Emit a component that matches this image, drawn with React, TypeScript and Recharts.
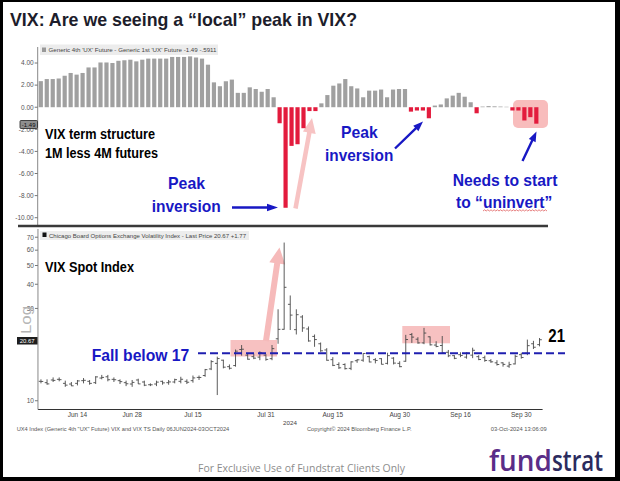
import React from 'react';
import { BarChart, Bar, Cell, XAxis, YAxis, ComposedChart } from 'recharts';

// ---------- DATA ----------
const termDates = [
  'Jun 6','Jun 7','Jun 10','Jun 11','Jun 12','Jun 13','Jun 14','Jun 17','Jun 18','Jun 19','Jun 20','Jun 21','Jun 24','Jun 25','Jun 26','Jun 27','Jun 28',
  'Jul 1','Jul 2','Jul 3','Jul 5','Jul 8','Jul 9','Jul 10','Jul 11','Jul 12','Jul 15','Jul 16','Jul 17','Jul 18','Jul 19','Jul 22','Jul 23','Jul 24','Jul 25','Jul 26','Jul 29','Jul 30','Jul 31',
  'Aug 1','Aug 2','Aug 5','Aug 6','Aug 7','Aug 8','Aug 9','Aug 12','Aug 13','Aug 14','Aug 15','Aug 16','Aug 19','Aug 20','Aug 21','Aug 22','Aug 23','Aug 26','Aug 27','Aug 28','Aug 29','Aug 30',
  'Sep 3','Sep 4','Sep 5','Sep 6','Sep 9','Sep 10','Sep 11','Sep 12','Sep 13','Sep 16','Sep 17','Sep 18','Sep 19','Sep 20','Sep 23','Sep 24','Sep 25','Sep 26','Sep 27','Sep 30',
  'Oct 1','Oct 2','Oct 3',
];
const termValues = [
  2.36, 2.55, 2.55, 2.6, 2.85, 3.1, 2.95, 3.1, 3.6, 3.6,
  4.05, 4.05, 4.0, 4.2, 4.25, 4.3, 4.15, 4.3, 4.4, 4.4,
  4.4, 4.4, 4.55, 4.55, 4.55, 4.6, 4.5, 4.4, 3.85, 2.25,
  1.9, 2.35, 2.5, 1.3, 1.3, 1.8, 1.65, 1.4, 1.65, 0.9,
  -1.45, -9.1, -3.5, -3.35, -1.9, -0.35, -0.35, 0.35, 1.1, 1.95,
  2.15, 2.55, 1.9, 1.7, 0.9, 1.5, 1.5, 1.6, 0.9, 1.6,
  1.65, 1.65, -0.4, -0.3, -0.3, -1.0, 0.15, 0.25, 0.8, 1.05,
  1.3, 0.95, 0.45, -0.55, 0.06, 0.1, 0.08, 0.06, 0.04, -0.3,
  -0.3, -1.2, -0.9, -1.49,
];
const termTicks = [4, 2, 0, -2, -4, -6, -8, -10];

const vixDates = [
  'Jun 6','Jun 7','Jun 10','Jun 11','Jun 12','Jun 13','Jun 14','Jun 17','Jun 18','Jun 20','Jun 21','Jun 24','Jun 25','Jun 26','Jun 27','Jun 28',
  'Jul 1','Jul 2','Jul 3','Jul 5','Jul 8','Jul 9','Jul 10','Jul 11','Jul 12','Jul 15','Jul 16','Jul 17','Jul 18','Jul 19','Jul 22','Jul 23','Jul 24','Jul 25','Jul 26','Jul 29','Jul 30','Jul 31',
  'Aug 1','Aug 2','Aug 5','Aug 6','Aug 7','Aug 8','Aug 9','Aug 12','Aug 13','Aug 14','Aug 15','Aug 16','Aug 19','Aug 20','Aug 21','Aug 22','Aug 23','Aug 26','Aug 27','Aug 28','Aug 29','Aug 30',
  'Sep 3','Sep 4','Sep 5','Sep 6','Sep 9','Sep 10','Sep 11','Sep 12','Sep 13','Sep 16','Sep 17','Sep 18','Sep 19','Sep 20','Sep 23','Sep 24','Sep 25','Sep 26','Sep 27','Sep 30',
  'Oct 1','Oct 2','Oct 3',
];
const vixOpen = [
  12.6, 12.4, 12.8, 12.9, 12.3, 12.2, 12.3, 12.7, 12.6, 12.4, 13.1, 13.3, 12.9, 12.7, 12.4, 12.2,
  12.8, 12.5, 12.1, 12.2, 12.6, 12.4, 12.5, 12.6, 12.6, 12.7, 13.2, 13.5, 14.6, 15.6, 16.2, 15.0, 15.2, 18.4, 17.2, 16.9, 16.8, 17.2,
  16.5, 20.9, 23.4, 31.5, 23.3, 27.1, 23.5, 21.5, 19.7, 18.3, 16.3, 15.4, 15.4, 14.7, 16.1, 16.2, 16.9, 16.3, 16.5, 15.6, 16.6, 15.6,
  16.0, 22.0, 20.8, 19.9, 21.4, 19.4, 19.3, 17.8, 17.1, 17.3, 16.8, 17.2, 16.9, 16.7, 16.1, 15.7, 15.7, 15.1, 15.5, 17.3,
  17.6, 19.7, 19.5,
];
const vixHigh = [
  12.9, 12.9, 13.2, 13.2, 12.7, 12.5, 12.8, 13.1, 12.8, 13.4, 13.6, 13.6, 13.2, 12.9, 12.7, 12.8,
  13.0, 12.7, 12.3, 12.7, 12.7, 12.8, 13.0, 13.3, 12.9, 13.5, 13.5, 14.6, 16.2, 16.9, 16.3, 15.4, 18.4, 19.4, 17.6, 17.5, 18.0, 17.4,
  19.4, 29.7, 65.7, 35.0, 29.7, 27.7, 24.2, 22.0, 20.0, 18.7, 16.8, 15.8, 15.6, 16.0, 16.4, 17.6, 17.1, 16.6, 16.6, 17.7, 16.8, 16.0,
  21.9, 22.4, 21.3, 23.8, 21.5, 20.3, 21.6, 18.3, 17.2, 17.8, 17.8, 18.8, 17.2, 17.1, 16.4, 16.2, 15.8, 15.9, 17.3, 17.7,
  20.7, 20.4, 21.1,
];
const vixLow = [
  12.3, 12.1, 12.5, 12.6, 11.8, 11.9, 12.0, 12.3, 12.1, 12.2, 12.9, 12.6, 12.5, 12.2, 11.9, 11.8,
  12.2, 11.9, 11.9, 11.9, 12.1, 12.1, 12.3, 12.3, 12.2, 12.4, 12.8, 13.3, 14.4, 10.7, 14.7, 14.5, 15.0, 17.1, 16.3, 16.4, 16.2, 16.1,
  16.2, 19.7, 23.3, 23.2, 22.0, 22.7, 20.2, 19.0, 17.9, 16.1, 15.1, 14.6, 14.5, 14.4, 15.7, 15.9, 15.8, 15.6, 15.4, 15.4, 15.4, 14.9,
  15.9, 19.9, 19.7, 19.6, 19.3, 18.9, 17.6, 16.8, 16.4, 16.8, 16.5, 16.6, 16.2, 15.9, 15.7, 15.2, 15.0, 14.8, 15.4, 16.5,
  17.2, 18.5, 19.1,
];
const vixClose = [
  12.58, 12.22, 12.74, 12.85, 12.04, 11.94, 12.66, 12.75, 12.30, 13.28, 13.20, 12.84, 12.84, 12.55, 12.24, 12.44,
  12.22, 12.03, 12.09, 12.48, 12.37, 12.51, 12.85, 12.91, 12.46, 13.12, 13.19, 14.48, 15.93, 16.52, 14.91, 14.72, 18.04, 18.46, 16.39, 16.60, 17.69, 16.36,
  18.59, 23.39, 38.57, 27.71, 27.85, 23.79, 20.37, 20.71, 18.12, 16.19, 15.23, 14.80, 14.65, 15.88, 16.27, 17.55, 15.86, 16.15, 15.43, 17.11, 15.65, 15.00,
  20.72, 21.32, 19.90, 22.38, 19.45, 19.08, 17.69, 17.07, 16.56, 17.14, 17.61, 18.23, 16.33, 16.15, 15.89, 15.39, 15.41, 15.37, 16.96, 16.73,
  19.26, 18.90, 20.67,
];
const vixTicks = [10, 30, 40, 50, 60, 70];
const xTickLabels = ['Jun 14', 'Jun 28', 'Jul 15', 'Jul 31', 'Aug 15', 'Aug 30', 'Sep 16', 'Sep 30'];

// ---------- TABLES ----------
const termData = termDates.map((d, i) => ({ d, v: termValues[i] }));
const vixData = vixDates.map((date, i) => ({
  date,
  range: [vixLow[i], vixHigh[i]],
  open: vixOpen[i],
  high: vixHigh[i],
  low: vixLow[i],
  close: vixClose[i],
}));

const GRAY = '#a0a0a0';
const RED = '#e31b3d';
const BLUE = '#1818c4';
const FONT = '"Liberation Sans", Arial, sans-serif';

const OhlcShape = (props: any) => {
  const { x, y, width, height } = props;
  const p = props.payload || props;
  if (!isFinite(x) || !isFinite(y) || !isFinite(height)) return null;
  const top = Math.min(y, y + height);
  const h = Math.abs(height);
  const cx = x + width / 2;
  const lh = Math.log(p.high);
  const ll = Math.log(p.low);
  const pos = (v: number) => top + ((lh - Math.log(v)) / (lh - ll)) * h;
  return (
    <g stroke="#4a4a4a" strokeWidth={0.9}>
      <line x1={cx} x2={cx} y1={top} y2={top + h} />
      <line x1={cx - 2.3} x2={cx} y1={pos(p.open)} y2={pos(p.open)} />
      <line x1={cx} x2={cx + 2.3} y1={pos(p.close)} y2={pos(p.close)} />
    </g>
  );
};

function arrowPoints(x1: number, y1: number, x2: number, y2: number, sw: number, hl: number, hw: number) {
  const dx = x2 - x1, dy = y2 - y1;
  const len = Math.sqrt(dx * dx + dy * dy);
  const ux = dx / len, uy = dy / len;
  const nx = -uy, ny = ux;
  const bx = x2 - ux * hl, by = y2 - uy * hl;
  const pts = [
    [x1 + nx * sw / 2, y1 + ny * sw / 2],
    [bx + nx * sw / 2, by + ny * sw / 2],
    [bx + nx * hw / 2, by + ny * hw / 2],
    [x2, y2],
    [bx - nx * hw / 2, by - ny * hw / 2],
    [bx - nx * sw / 2, by - ny * sw / 2],
    [x1 - nx * sw / 2, y1 - ny * sw / 2],
  ];
  return pts.map((q) => q[0].toFixed(2) + ',' + q[1].toFixed(2)).join(' ');
}

function squiggle(x0: number, x1: number, y: number) {
  let d = `M${x0} ${y}`;
  let up = true;
  for (let x = x0; x < x1; x += 1.6) {
    d += ` L${(x + 1.6).toFixed(1)} ${up ? y - 1.2 : y}`;
    up = !up;
  }
  return d;
}

export default function App() {
  return (
    <div style={{ position: 'absolute', left: 0, top: 0, width: 620, height: 481, background: '#fff', overflow: 'hidden', fontFamily: FONT }}>
      {/* back layer: pink highlights */}
      <svg width={620} height={481} style={{ position: 'absolute', left: 0, top: 0 }}>
        <rect x={513} y={100} width={35} height={28} rx={5} fill="#f8bcbc" />
        <polygon points={arrowPoints(295.5, 208.5, 312, 118, 4.5, 15, 13)} fill="#f7c3c3" />
        <rect x={230.5} y={340} width={46.5} height={16.5} fill="#f7c1c1" />
        <rect x={402.3} y={326} width={47.7} height={17.3} fill="#f7c1c1" />
        <polygon points={arrowPoints(266, 341, 279.5, 247.5, 6, 16, 16)} fill="#f6baba" />
      </svg>

      {/* top chart: term structure */}
      <div style={{ position: 'absolute', left: 0, top: 0 }}>
        <BarChart width={620} height={230} data={termData} margin={{ top: 47, right: 80.8, bottom: 4, left: 0 }} style={{ fontFamily: FONT }}>
          <XAxis dataKey="d" hide />
          <YAxis
            width={37.7}
            type="number"
            domain={[-10.75, 5.45]}
            allowDataOverflow
            ticks={termTicks}
            interval={0}
            tickFormatter={(v: number) => v.toFixed(2)}
            tick={{ fontSize: 6.5, fill: '#555' }}
            tickSize={3}
            tickMargin={1}
            tickLine={{ stroke: '#777' }}
            axisLine={{ stroke: '#888' }}
          />
          <Bar dataKey="v" barSize={4.2} isAnimationActive={false}>
            {termData.map((e, i) => (
              <Cell key={i} fill={e.v < 0 ? RED : GRAY} />
            ))}
          </Bar>
        </BarChart>
      </div>

      {/* bottom chart: VIX spot */}
      <div style={{ position: 'absolute', left: 0, top: 225 }}>
        <ComposedChart width={620} height={200} data={vixData} margin={{ top: 4, right: 77.4, bottom: 0, left: 0 }} style={{ fontFamily: FONT }}>
          <XAxis
            dataKey="date"
            ticks={xTickLabels}
            interval={0}
            height={15.5}
            tick={{ fontSize: 6.5, fill: '#444' }}
            tickLine={false}
            tickSize={2}
            tickMargin={1}
            axisLine={{ stroke: '#333' }}
          />
          <YAxis
            width={37.96}
            type="number"
            scale="log"
            domain={[9.01, 77.2]}
            allowDataOverflow
            ticks={vixTicks}
            interval={0}
            tick={{ fontSize: 6.5, fill: '#555' }}
            tickSize={3}
            tickMargin={1}
            tickLine={{ stroke: '#777' }}
            axisLine={{ stroke: '#888' }}
          />
          <Bar dataKey="range" barSize={4} shape={<OhlcShape />} isAnimationActive={false} />
        </ComposedChart>
      </div>

      {/* front layer: annotations */}
      <svg width={620} height={481} style={{ position: 'absolute', left: 0, top: 0 }} fontFamily={FONT}>
        {/* frame */}
        <rect x={0} y={0} width={620} height={2} fill="#000" />
        <rect x={0} y={0} width={3} height={481} fill="#000" />
        <rect x={615} y={0} width={5} height={481} fill="#000" />
        <rect x={0} y={477} width={620} height={4} fill="#000" />

        <text x={10} y={25.5} fontSize={19} fontWeight="bold" fill="#1d1d2b" textLength={347} lengthAdjust="spacingAndGlyphs">
          VIX: Are we seeing a “local” peak in VIX?
        </text>

        {/* panel separator */}
        <line x1={18} x2={548} y1={226} y2={226} stroke="#3a3a3a" strokeWidth={2.5} />

        {/* top legend */}
        <rect x={40} y={44.5} width={178} height={10.5} fill="#ececec" />
        <rect x={42} y={47.5} width={4} height={4.5} fill="#999" />
        <text x={48.5} y={52.3} fontSize={6.2} fill="#444" textLength={168} lengthAdjust="spacingAndGlyphs">
          Generic 4th 'UX' Future - Generic 1st 'UX' Future  -1.49  -.5911
        </text>

        {/* last value tag top */}
        <rect x={20} y={120.5} width={17.5} height={8} rx={1} fill="#8e8e8e" stroke="#222" strokeWidth={0.8} />
        <text x={28.7} y={126.7} fontSize={6} fill="#111" textAnchor="middle">-1.49</text>

        <text x={45} y={139.3} fontSize={14} fontWeight="bold" fill="#000" textLength={110} lengthAdjust="spacingAndGlyphs">VIX term structure</text>
        <text x={45} y={157.7} fontSize={14} fontWeight="bold" fill="#000" textLength={113} lengthAdjust="spacingAndGlyphs">1M less 4M futures</text>

        <text x={168} y={189} fontSize={17} fontWeight="bold" fill={BLUE} textLength={37} lengthAdjust="spacingAndGlyphs">Peak</text>
        <text x={151.7} y={211.5} fontSize={17} fontWeight="bold" fill={BLUE} textLength={69} lengthAdjust="spacingAndGlyphs">inversion</text>
        <polygon points={arrowPoints(232, 207.5, 278, 207.5, 2.4, 11, 7.5)} fill={BLUE} />

        <text x={341} y={138.3} fontSize={17} fontWeight="bold" fill={BLUE} textLength={36.7} lengthAdjust="spacingAndGlyphs">Peak</text>
        <text x={325} y={161} fontSize={17} fontWeight="bold" fill={BLUE} textLength={68.3} lengthAdjust="spacingAndGlyphs">inversion</text>
        <polygon points={arrowPoints(395, 148.5, 423, 121.5, 2.4, 10, 7.5)} fill={BLUE} />

        <text x={452.7} y={185.7} fontSize={17} fontWeight="bold" fill={BLUE} textLength={104.7} lengthAdjust="spacingAndGlyphs">Needs to start</text>
        <text x={456} y={207.5} fontSize={17} fontWeight="bold" fill={BLUE} textLength={96.3} lengthAdjust="spacingAndGlyphs">to “uninvert”</text>
        <path d={squiggle(483, 547, 211)} stroke="#e06060" strokeWidth={0.8} fill="none" />
        <polygon points={arrowPoints(522.5, 161, 536.5, 131.5, 2.4, 10, 7.5)} fill={BLUE} />

        {/* bottom legend */}
        <rect x={40} y={231} width={209} height={9} fill="#ededed" />
        <rect x={42.5} y={232.5} width={4} height={4.5} fill="#111" />
        <text x={49} y={237.6} fontSize={6.2} fill="#444" textLength={197} lengthAdjust="spacingAndGlyphs">
          Chicago Board Options Exchange Volatility Index - Last Price 20.67  +1.77
        </text>

        <text x={45} y={271.7} fontSize={14} fontWeight="bold" fill="#000" textLength={89} lengthAdjust="spacingAndGlyphs">VIX Spot Index</text>

        <text x={25} y={320} fontSize={15} fill="#b5b5b5" textAnchor="middle" dominantBaseline="central" transform="rotate(-90 25 320)" textLength={28} lengthAdjust="spacingAndGlyphs">Log</text>

        <rect x={17} y={337} width={20.5} height={7.5} fill="#1e1e1e" />
        <text x={27.2} y={343} fontSize={6} fill="#fff" textAnchor="middle">20.67</text>

        <line x1={198} x2={565} y1={353.3} y2={353.3} stroke="#1f1fb0" strokeWidth={2} strokeDasharray="8 4" />
        <text x={91.7} y={360.8} fontSize={17} fontWeight="bold" fill={BLUE} textLength={97.6} lengthAdjust="spacingAndGlyphs">Fall below 17</text>
        <text x={548.3} y={341.7} fontSize={18} fontWeight="bold" fill="#000" textLength={16.7} lengthAdjust="spacingAndGlyphs">21</text>

        <text x={290} y={424.5} fontSize={6.2} fill="#444" textAnchor="middle">2024</text>

        <text x={16.7} y={431} fontSize={6} fill="#555" textLength={212.6} lengthAdjust="spacingAndGlyphs">
          UX4 Index (Generic 4th "UX" Future) VIX and VIX TS  Daily 06JUN2024-03OCT2024
        </text>
        <text x={307} y={431} fontSize={6} fill="#555" textLength={104.7} lengthAdjust="spacingAndGlyphs">Copyright© 2024 Bloomberg Finance L.P.</text>
        <text x={490.7} y={431} fontSize={6} fill="#555" textLength={56} lengthAdjust="spacingAndGlyphs">03-Oct-2024 13:06:09</text>

        <text x={198} y={472} fontSize={11} fill="#8c8c8c" fontFamily='"Open Sans", sans-serif' textLength={207} lengthAdjust="spacingAndGlyphs">
          For Exclusive Use of Fundstrat Clients Only
        </text>
        <text x={489} y={471} fontSize={29} fill="#5a2d88" fontFamily='"Open Sans", sans-serif' fontWeight={600} textLength={63} lengthAdjust="spacingAndGlyphs">fund</text>
        <text x={552} y={471} fontSize={29} fill="#2b2b5e" fontFamily='"Open Sans", sans-serif' fontWeight={600} textLength={51} lengthAdjust="spacingAndGlyphs">strat</text>
      </svg>
    </div>
  );
}
